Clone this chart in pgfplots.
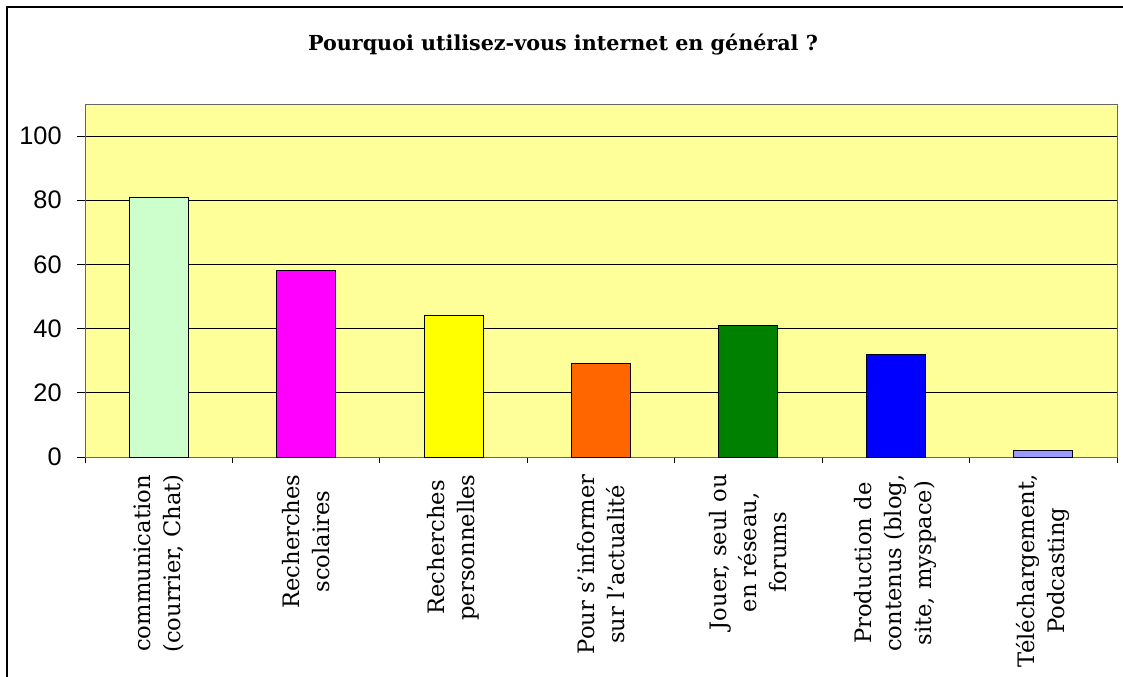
\documentclass[border=0pt]{standalone}
\usepackage{fontspec}
\usepackage{pgfplots}
\pgfplotsset{compat=1.18}
\setmainfont{DejaVu Serif}
\newfontfamily\arialf{Liberation Sans}
\definecolor{plotbg}{HTML}{FFFF99}
\definecolor{c1}{HTML}{CCFFCC}
\definecolor{c2}{HTML}{FF00FF}
\definecolor{c3}{HTML}{FFFF00}
\definecolor{c4}{HTML}{FF6600}
\definecolor{c5}{HTML}{008000}
\definecolor{c6}{HTML}{0000FF}
\definecolor{c7}{HTML}{9999FF}
\begin{document}
\begin{tikzpicture}[x=0.75pt,y=0.75pt]
\useasboundingbox (0,0) rectangle (1123,-677);
\draw[line width=1.5pt] (7,-677) -- (7,-7) -- (1123,-7);
\node[font=\fontsize{15.5}{18}\selectfont\bfseries] at (563,-45) {Pourquoi utilisez-vous internet en général ?};
\begin{axis}[
  at={(63.75pt,-342.75pt)}, anchor=south west,
  scale only axis, width=774pt, height=264.75pt,
  xmin=-0.5, xmax=6.5, ymin=0, ymax=110,
  axis background/.style={fill=plotbg},
  ytick={0,20,40,60,80,100},
  xtick={0,1,2,3,4,5,6},
  xticklabels={{communication\\(courrier, Chat)},{Recherches\\scolaires},{Recherches\\personnelles},{Pour s’informer\\sur l’actualité},{Jouer, seul ou\\en réseau,\\forums},{Production de\\contenus (blog,\\site, myspace)},{Téléchargement,\\Podcasting}},
  major x tick style={draw=none},
  minor xtick={-0.5,0.5,1.5,2.5,3.5,4.5,5.5,6.5},
  xtick pos=bottom, ytick pos=left,
  tick align=outside,
  major tick length=6pt, minor tick length=4.5pt,
  ymajorgrids, grid style={black, line width=0.75pt},
  axis line style={draw=black!60, line width=0.75pt},
  ytick style={black, line width=0.75pt},
  minor tick style={black, line width=0.75pt},
  yticklabel style={font=\arialf\fontsize{19}{21}\selectfont, xshift=-8pt},
  /pgf/number format/assume math mode=true,
  xticklabel style={rotate=90, anchor=east, align=center, font=\fontsize{17}{22.5}\selectfont},
  xticklabel shift=3.5pt,
  ybar, bar width=0.4, bar shift=0pt,
  every axis plot/.append style={draw=black, line width=0.75pt},
]
\addplot[fill=c1] coordinates {(0,81)};
\addplot[fill=c2] coordinates {(1,58)};
\addplot[fill=c3] coordinates {(2,44)};
\addplot[fill=c4] coordinates {(3,29)};
\addplot[fill=c5] coordinates {(4,41)};
\addplot[fill=c6] coordinates {(5,32)};
\addplot[fill=c7] coordinates {(6,2)};
\end{axis}
\end{tikzpicture}
\end{document}
